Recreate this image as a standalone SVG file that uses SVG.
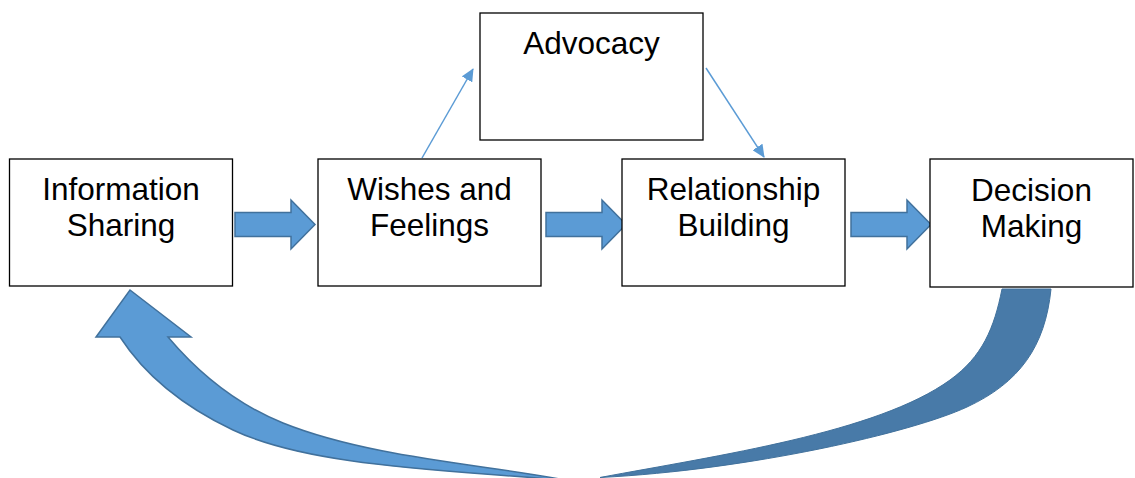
<svg xmlns="http://www.w3.org/2000/svg" width="1135" height="478" viewBox="0 0 1135 478">
<style>
.box{fill:#fff;stroke:#000;stroke-width:1.3}
.lbl{font-family:"Liberation Sans",Arial,sans-serif;font-size:31.5px;fill:#000;text-anchor:middle}
.blk{fill:#5B9BD5;stroke:#41719C;stroke-width:1.5;stroke-linejoin:miter}
.thin{fill:none;stroke:#5B9BD5;stroke-width:1.5;marker-end:url(#ah)}
</style>
<defs>
<marker id="ah" viewBox="0 0 13 12" refX="12" refY="6" markerWidth="13" markerHeight="12" markerUnits="userSpaceOnUse" orient="auto">
<path d="M0,0 L13,6 L0,12 Z" fill="#5B9BD5"/>
</marker>
</defs>
<rect width="1135" height="478" fill="#fff"/>
<g id="connectors">
<path class="blk" d="M235,212.5 H291 V200 L315,224.5 L291,249 V236.5 H235 Z"/>
<path class="blk" d="M546,212.5 H602 V200 L626,224.5 L602,249 V236.5 H546 Z"/>
<path class="blk" d="M851,212.5 H907 V200 L931,224.5 L907,249 V236.5 H851 Z"/>
<line class="thin" x1="422" y1="158" x2="473" y2="69"/>
<line class="thin" x1="706" y1="68" x2="764" y2="157"/>
<path id="loop-back" fill="#487AA8" stroke="#41719C" stroke-width="1" d="M1051,289 C1045.2,346.7 1019.6,382.6 967,407 C912.6,432.3 750,470 600,477.5 C718,455.4 877.1,432.7 950,380 C982.4,356.6 994.2,328.2 1002,289 Z"/>
<path id="loop-front" class="blk" d="M130,290 L191,337 L168,337 C200.3,375.2 236.6,404.3 283,423 C371.2,458.4 491.6,465 570,481 C460.5,470 314.4,468.5 233,430 C187.8,408.6 147.3,379 120,337 L96,337 Z"/>
</g>
<g id="information-sharing">
<rect class="box" x="9.5" y="159" width="223" height="127"/>
<text class="lbl" x="121" y="200">Information</text>
<text class="lbl" x="121" y="236">Sharing</text>
</g>
<g id="wishes-feelings">
<rect class="box" x="318" y="159" width="223" height="127"/>
<text class="lbl" x="429.5" y="200">Wishes and</text>
<text class="lbl" x="429.5" y="236">Feelings</text>
</g>
<g id="relationship-building">
<rect class="box" x="622" y="159" width="223" height="127"/>
<text class="lbl" x="733.5" y="200">Relationship</text>
<text class="lbl" x="733.5" y="236">Building</text>
</g>
<g id="decision-making">
<rect class="box" x="930" y="159" width="203" height="128"/>
<text class="lbl" x="1031.5" y="201">Decision</text>
<text class="lbl" x="1031.5" y="237">Making</text>
</g>
<g id="advocacy">
<rect class="box" x="480" y="13" width="223" height="127"/>
<text class="lbl" x="591.5" y="54">Advocacy</text>
</g>
</svg>
